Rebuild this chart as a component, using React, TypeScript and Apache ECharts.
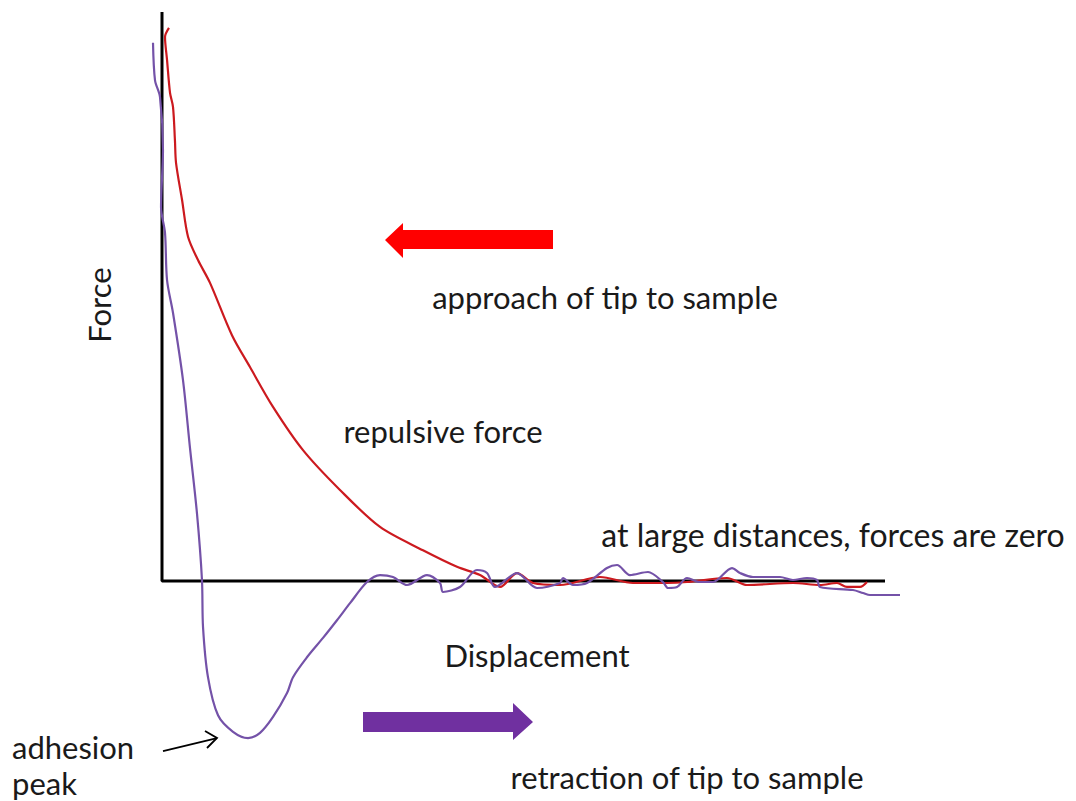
import React, { useEffect, useRef } from "react";
import * as echarts from "echarts";

// Displacement (x) and force (y) in arbitrary units
const approachX = [0.93, 0.4, 0.67, 1.07, 1.47, 1.73, 1.87, 2.67, 3.47, 4.8, 6.4, 9.33, 11.73, 14.8, 18.8, 23.73, 29.07, 34.8, 39.33, 42.4, 45.07, 47.33, 49.47, 53.07, 58.4, 62.8, 67.33, 70.0, 75.33, 78.0, 84.13, 87.73, 90.0, 91.33, 93.07, 94.0];
const approachY = [97.2, 95.6, 91.6, 85.8, 83.3, 77.3, 73.5, 67.0, 60.5, 56.4, 52.4, 43.2, 37.6, 30.6, 23.0, 16.0, 9.5, 5.4, 2.5, 1.05, -1.05, 1.4, -0.35, -0.7, 0.7, -0.35, -0.35, -0.18, 0.53, -0.7, -0.35, -0.7, -0.35, -1.05, -1.05, -0.18];

const retractX = [-1.2, -0.93, -0.27, 0.13, -0.13, 0.4, 0.67, 1.47, 2.8, 3.73, 4.67, 5.33, 5.47, 6.13, 7.47, 9.47, 11.47, 13.07, 14.8, 16.67, 17.47, 19.33, 21.47, 23.33, 25.07, 27.33, 29.07, 30.8, 32.67, 35.33, 37.07, 37.47, 39.73, 42.0, 43.33, 44.4, 47.33, 50.0, 53.07, 53.47, 54.8, 56.67, 59.33, 60.67, 62.4, 64.8, 66.8, 67.47, 68.67, 70.0, 71.73, 73.47, 76.0, 77.07, 78.8, 82.4, 84.13, 86.0, 87.33, 87.73, 92.13, 93.47, 94.4, 98.4];
const retractY = [94.6, 88.0, 85.1, 75.7, 65.7, 61.2, 52.9, 47.1, 35.3, 23.4, 11.8, 0.18, -8.1, -16.9, -23.6, -26.5, -27.6, -26.7, -23.9, -19.7, -16.9, -13.4, -10.0, -6.9, -3.9, -0.18, 1.05, 0.7, -0.7, 1.05, -0.35, -1.93, -1.05, 1.93, 1.4, -1.05, 1.4, -1.23, -0.35, 0.53, -0.7, -0.35, 2.28, 2.81, 1.05, 1.58, -0.18, -1.23, -1.05, 0.53, -0.18, -0.18, 2.28, 1.4, 0.7, 0.7, 0.18, 0.53, 0.18, -1.05, -1.58, -2.11, -2.46, -2.46];

const forceAxis = [[0, 100], [0, 0], [96.4, 0]];

const labels = {
  force: "Force",
  displacement: "Displacement",
  approach: "approach of tip to sample",
  retraction: "retraction of tip to sample",
  repulsive: "repulsive force",
  zero: "at large distances, forces are zero",
  adhesion: "adhesion\npeak",
};

const FONT = "Lato, 'Open Sans', sans-serif";
const FS = 31;

export default function App() {
  const ref = useRef<HTMLDivElement>(null);
  useEffect(() => {
    if (!ref.current) return;
    const chart = echarts.init(ref.current, undefined, { renderer: "svg" });
    const txt = (x: number, y: number, text: string, extra: any = {}) => ({
      type: "text",
      x,
      y,
      style: { text, fontSize: FS, fontFamily: FONT, fill: "#1a1a1a", align: "center", verticalAlign: "middle", ...extra },
    });
    chart.setOption({
      animation: false,
      backgroundColor: "#ffffff",
      grid: { left: 147, right: 164, top: 12, bottom: 49.3 },
      xAxis: { type: "value", min: -2, max: 100, show: false },
      yAxis: { type: "value", min: -30, max: 100, show: false },
      series: [
        {
          type: "line",
          data: forceAxis,
          symbol: "none",
          lineStyle: { color: "#000000", width: 3 },
          z: 1,
        },
        {
          type: "line",
          data: approachX.map((x, i) => [x, approachY[i]]),
          symbol: "none",
          smooth: 0.3,
          lineStyle: { color: "#cc1a1f", width: 2.2 },
          z: 2,
        },
        {
          type: "line",
          data: retractX.map((x, i) => [x, retractY[i]]),
          symbol: "none",
          smooth: 0.3,
          lineStyle: { color: "#7452a8", width: 2.2 },
          z: 3,
        },
      ],
      graphic: [
        {
          type: "polygon",
          shape: { points: [[385, 240], [403, 223], [403, 230], [553, 230], [553, 249], [403, 249], [403, 258]] },
          style: { fill: "#ff0000" },
        },
        {
          type: "polygon",
          shape: { points: [[363, 712], [513, 712], [513, 703], [533, 722], [513, 740], [513, 732], [363, 732]] },
          style: { fill: "#7030a0" },
        },
        {
          type: "line",
          shape: { x1: 163, y1: 751, x2: 217, y2: 738 },
          style: { stroke: "#000", lineWidth: 1.8 },
        },
        {
          type: "polyline",
          shape: { points: [[205, 731], [217, 738], [207, 748]] },
          style: { stroke: "#000", lineWidth: 1.8, fill: null },
        },
        {
          type: "text",
          x: 99,
          y: 305,
          rotation: Math.PI / 2,
          style: { text: labels.force, fontSize: FS, fontFamily: FONT, fill: "#1a1a1a", align: "center", verticalAlign: "middle" },
        },
        txt(605, 297, labels.approach),
        txt(443, 431, labels.repulsive),
        txt(833, 534, labels.zero, { fontSize: 32 }),
        txt(537, 655, labels.displacement),
        txt(687, 777, labels.retraction),
        txt(12, 765, labels.adhesion, { align: "left", lineHeight: 36 }),
      ],
    });
    return () => chart.dispose();
  }, []);
  return (
    <div
      ref={ref}
      style={{ position: "absolute", left: 0, top: 0, width: 1076, height: 801 }}
    />
  );
}
